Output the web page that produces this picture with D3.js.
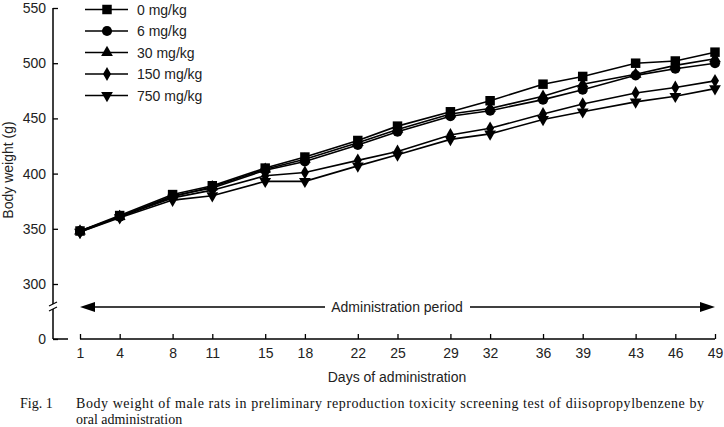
<!DOCTYPE html>
<html>
<head>
<meta charset="utf-8">
<script src="https://cdn.jsdelivr.net/npm/d3@7"></script>
<style>
  body { margin: 0; background: #fff; }
  svg text { font-family: "Liberation Sans", Arial, sans-serif; }
  svg text.caption { font-family: "Liberation Serif", "DejaVu Serif", serif; }
</style>
</head>
<body>
<div id="chart"></div>
<script>
const days = [1, 4, 8, 11, 15, 18, 22, 25, 29, 32, 36, 39, 43, 46, 49];
const doseLabels = ['0 mg/kg', '6 mg/kg', '30 mg/kg', '150 mg/kg', '750 mg/kg'];
const dose0 = [348, 362, 381, 389, 405, 415, 430, 443, 456, 466, 481, 488, 500, 502, 510];
const dose6 = [348, 361, 380, 387, 403, 411, 426, 438, 452, 457, 467, 476, 489, 495, 500];
const dose30 = [348, 361, 379, 388, 404, 413, 428, 440, 454, 459, 470, 481, 490, 498, 504];
const dose150 = [347, 361, 378, 385, 398, 401, 412, 420, 435, 441, 454, 463, 473, 478, 484];
const dose750 = [347, 360, 376, 380, 393, 393, 407, 417, 431, 436, 449, 456, 465, 470, 477];
const yTicks = [300, 350, 400, 450, 500, 550];

const series = [dose0, dose6, dose30, dose150, dose750];
const shapes = [
    { type: d3.symbolSquare, size: 90, rot: 0 },
    { type: d3.symbolCircle, size: 80, rot: 0 },
    { type: d3.symbolTriangle, size: 60, rot: 0 },
    { type: d3.symbolDiamond, size: 55, rot: 0 },
    { type: d3.symbolTriangle, size: 60, rot: 180 }
];

const width = 724, height = 427;
const axisX = 53, axisY = 339;
const fs = 14;

const svg = d3.select('#chart').append('svg')
    .attr('width', width)
    .attr('height', height);

const x = d3.scaleLinear().domain([1, 49]).range([80, 715]);
const y = d3.scaleLinear().domain([300, 550]).range([284, 8]);
const yZero = d3.scaleLinear().domain([0, 1]).range([axisY, axisY - 1]);

// y axis (upper part + zero)
const yAxis = svg.append('g')
    .attr('transform', `translate(${axisX},0)`)
    .call(d3.axisLeft(y).tickValues(yTicks).tickSize(-5).tickSizeOuter(0).tickPadding(7));
const yAxis0 = svg.append('g')
    .attr('transform', `translate(${axisX},0)`)
    .call(d3.axisLeft(yZero).tickValues([0]).tickFormat(d3.format('d')).tickSize(-5).tickSizeOuter(0).tickPadding(7));
[yAxis, yAxis0].forEach(g => {
    g.select('.domain').remove();
    g.selectAll('text').attr('font-size', fs).attr('fill', '#222');
    g.selectAll('line').attr('stroke', '#000').attr('stroke-width', 1.3);
});

// x axis
const xAxis = svg.append('g')
    .attr('transform', `translate(0,${axisY})`)
    .call(d3.axisBottom(x).tickValues(days).tickSize(-5).tickSizeOuter(0).tickPadding(9));
xAxis.select('.domain').remove();
xAxis.selectAll('text').attr('font-size', fs).attr('fill', '#222');
xAxis.selectAll('line').attr('stroke', '#000').attr('stroke-width', 1.3);

// axis lines with breaks
svg.append('line').attr('x1', axisX).attr('x2', axisX).attr('y1', 8).attr('y2', axisY)
    .attr('stroke', '#000').attr('stroke-width', 1.5);
svg.append('line').attr('x1', axisX).attr('x2', 68).attr('y1', axisY).attr('y2', axisY)
    .attr('stroke', '#000').attr('stroke-width', 1.5);
svg.append('line').attr('x1', 80).attr('x2', 715).attr('y1', axisY).attr('y2', axisY)
    .attr('stroke', '#000').attr('stroke-width', 1.5);
// y break
svg.append('rect').attr('x', axisX - 4).attr('y', 304).attr('width', 8).attr('height', 5).attr('fill', '#fff');
[303, 308].forEach(yy => {
    svg.append('line').attr('x1', axisX - 4).attr('x2', axisX + 4)
        .attr('y1', yy + 3).attr('y2', yy - 1)
        .attr('stroke', '#000').attr('stroke-width', 1.2);
});

// administration period arrow
const arrowY = 307;
svg.append('line').attr('x1', x(1) + 12).attr('x2', 325).attr('y1', arrowY).attr('y2', arrowY)
    .attr('stroke', '#000').attr('stroke-width', 1.5);
svg.append('line').attr('x1', 470).attr('x2', x(49) - 12).attr('y1', arrowY).attr('y2', arrowY)
    .attr('stroke', '#000').attr('stroke-width', 1.5);
svg.append('path')
    .attr('d', `M${x(1)},${arrowY}L${x(1) + 15},${arrowY - 5}L${x(1) + 15},${arrowY + 5}Z`)
    .attr('fill', '#000');
svg.append('path')
    .attr('d', `M${x(49)},${arrowY}L${x(49) - 15},${arrowY - 5}L${x(49) - 15},${arrowY + 5}Z`)
    .attr('fill', '#000');
svg.append('text').attr('x', 397).attr('y', arrowY + 5)
    .attr('text-anchor', 'middle').attr('font-size', fs).attr('fill', '#222')
    .text('Administration period');

// series
const line = d3.line().x((d, i) => x(days[i])).y(d => y(d));
series.forEach((vals, s) => {
    svg.append('path').datum(vals)
        .attr('d', line)
        .attr('fill', 'none')
        .attr('stroke', '#000')
        .attr('stroke-width', 1.6);
});
series.forEach((vals, s) => {
    const sh = shapes[s];
    svg.append('g').selectAll('path')
        .data(vals)
        .join('path')
        .attr('d', d3.symbol().type(sh.type).size(sh.size))
        .attr('transform', (d, i) => `translate(${x(days[i])},${y(d)}) rotate(${sh.rot})`)
        .attr('fill', '#000');
});

// legend
const legend = svg.append('g');
doseLabels.forEach((lab, i) => {
    const ly = 9.5 + i * 21.5;
    legend.append('line').attr('x1', 85).attr('x2', 128).attr('y1', ly).attr('y2', ly)
        .attr('stroke', '#000').attr('stroke-width', 1.6);
    const sh = shapes[i];
    legend.append('path')
        .attr('d', d3.symbol().type(sh.type).size(sh.size)())
        .attr('transform', `translate(107,${ly}) rotate(${sh.rot})`)
        .attr('fill', '#000');
    legend.append('text').attr('x', 137).attr('y', ly + 5)
        .attr('font-size', fs).attr('fill', '#222').text(lab);
});

// axis titles
svg.append('text')
    .attr('transform', 'translate(13,170) rotate(-90)')
    .attr('text-anchor', 'middle').attr('font-size', fs).attr('fill', '#222')
    .text('Body weight (g)');
svg.append('text').attr('x', 397).attr('y', 382)
    .attr('text-anchor', 'middle').attr('font-size', fs).attr('fill', '#222')
    .text('Days of administration');

// caption
const cap = svg.append('g').attr('font-size', 14).attr('fill', '#111');
cap.append('text').attr('class', 'caption').attr('x', 20).attr('y', 408).text('Fig. 1');
cap.append('text').attr('class', 'caption').attr('x', 76).attr('y', 408)
    .attr('textLength', 628).attr('lengthAdjust', 'spacing')
    .text('Body weight of male rats in preliminary reproduction toxicity screening test of diisopropylbenzene by');
cap.append('text').attr('class', 'caption').attr('x', 76).attr('y', 424)
    .text('oral administration');
</script>
</body>
</html>
